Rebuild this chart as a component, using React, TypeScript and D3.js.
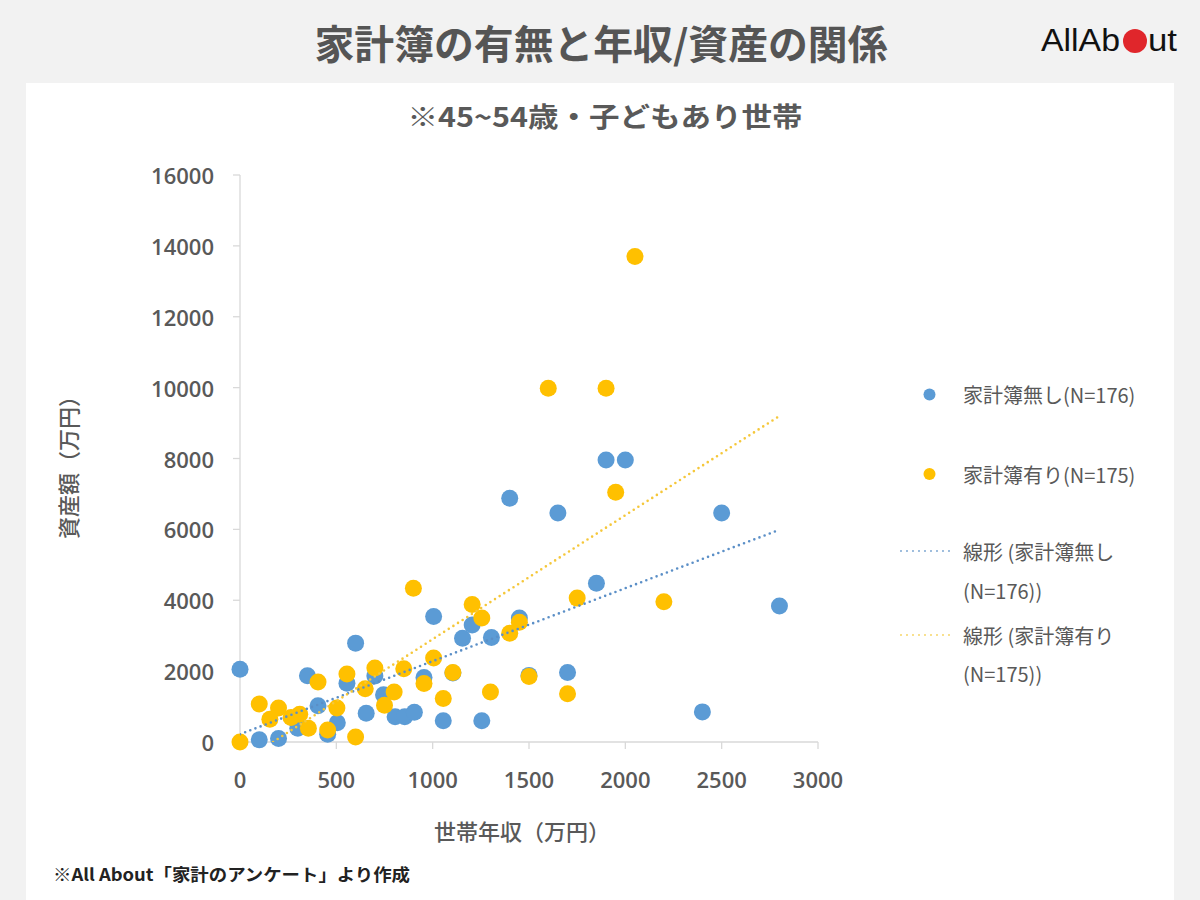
import React from 'react';
import * as d3 from 'd3';

// Axis ticks
const incomeTicks = [0, 500, 1000, 1500, 2000, 2500, 3000];
const assetTicks = [0, 2000, 4000, 6000, 8000, 10000, 12000, 14000, 16000];

// 家計簿無し (N=176): household income / assets, 万円
const noBookIncome = [0, 100, 200, 290, 300, 350, 405, 455, 505, 555, 600, 655, 700, 745, 805, 855, 905, 955, 1005, 1055, 1105, 1155, 1205, 1255, 1305, 1400, 1450, 1500, 1650, 1700, 1850, 1900, 2000, 2400, 2500, 2800];
const noBookAssets = [2050, 60, 100, 620, 390, 1870, 1020, 220, 540, 1660, 2790, 810, 1860, 1330, 710, 710, 840, 1820, 3540, 600, 1950, 2930, 3300, 600, 2950, 6880, 3500, 1880, 6460, 1960, 4480, 7960, 7960, 850, 6460, 3840];

// 家計簿有り (N=175)
const bookIncome = [0, 100, 155, 200, 265, 310, 355, 405, 455, 503, 555, 600, 650, 700, 750, 800, 850, 900, 955, 1005, 1055, 1105, 1205, 1255, 1300, 1400, 1450, 1500, 1600, 1700, 1750, 1900, 1950, 2050, 2200];
const bookAssets = [0, 1070, 640, 960, 690, 780, 390, 1690, 340, 960, 1920, 140, 1500, 2090, 1040, 1410, 2070, 4340, 1650, 2370, 1230, 1960, 3880, 3500, 1410, 3070, 3380, 1850, 9980, 1360, 4060, 9980, 7050, 13700, 3960];

// Linear trend lines (slope, intercept) and their x extent
const trendNoBook = { slope: 2.06, intercept: 220 };
const trendBook = { slope: 3.5, intercept: -600 };
const trendXMax = 2800;

const legendLabels = ['家計簿無し(N=176)', '家計簿有り(N=175)'];
const trendLabels = [['線形 (家計簿無し', '(N=176))'], ['線形 (家計簿有り', '(N=175))']];

const BLUE = '#5B9BD5';
const YELLOW = '#FFC000';
const TEXT = '#595959';
const JP = '"Noto Sans CJK JP", "Noto Sans", sans-serif';
const NUM = '"Open Sans", "Noto Sans", sans-serif';

export default function App() {
  const W = 1200;
  const H = 900;
  const x = d3.scaleLinear().domain([0, 3000]).range([240, 818]);
  const y = d3.scaleLinear().domain([0, 16000]).range([742, 175]);

  const noBook = noBookIncome.map((v, i) => [v, noBookAssets[i]]);
  const book = bookIncome.map((v, i) => [v, bookAssets[i]]);

  const line = d3.line<number[]>().x((d) => x(d[0])).y((d) => y(d[1]));
  const trendPath = (t: { slope: number; intercept: number }) => {
    const x0 = Math.max(0, -t.intercept / t.slope);
    return line([
      [x0, t.slope * x0 + t.intercept],
      [trendXMax, t.slope * trendXMax + t.intercept],
    ]);
  };

  const [x0, x1] = x.range();
  const [y0, y1] = y.range();

  return (
    <svg
      width={W}
      height={H}
      style={{ position: 'absolute', left: 0, top: 0, display: 'block' }}
    >
      <defs>
        <clipPath id="plot-clip">
          <rect x={x0} y={y1 - 10} width={x1 - x0} height={y0 - y1 + 10} />
        </clipPath>
      </defs>
      <rect x={0} y={0} width={W} height={H} fill="#f2f2f2" />
      <rect x={26} y={83} width={1148} height={H - 83} fill="#ffffff" />

      {/* header */}
      <text
        x={601}
        y={42}
        textAnchor="middle"
        dominantBaseline="central"
        fontFamily={JP}
        fontWeight={700}
        fontSize={40}
        fill="#555555"
        textLength={573}
        lengthAdjust="spacingAndGlyphs"
      >
        家計簿の有無と年収/資産の関係
      </text>
      <g fontFamily='"Liberation Sans Narrow", "Liberation Sans", Arial, sans-serif' fontSize={32} fill="#111111">
        <text x={1041} y={51} textLength={79} lengthAdjust="spacingAndGlyphs">AllAb</text>
        <circle cx={1135} cy={41} r={12} fill="#e0262b" />
        <text x={1148} y={51} textLength={29} lengthAdjust="spacingAndGlyphs">ut</text>
      </g>

      {/* subtitle */}
      <text
        x={605}
        y={115}
        textAnchor="middle"
        dominantBaseline="central"
        fontFamily={JP}
        fontWeight={700}
        fontSize={27}
        fill="#595959"
        textLength={395}
        lengthAdjust="spacingAndGlyphs"
      >
        ※45~54歳・子どもあり世帯
      </text>

      {/* axes */}
      <g stroke="#d9d9d9" strokeWidth={1.3} fill="none">
        <line x1={x0} x2={x0} y1={y1} y2={y0} />
        <line x1={x0} x2={x1} y1={y0} y2={y0} />
        {assetTicks.map((t) => (
          <line key={'yt' + t} x1={x0 - 7} x2={x0} y1={y(t)} y2={y(t)} />
        ))}
        {incomeTicks.map((t) => (
          <line key={'xt' + t} x1={x(t)} x2={x(t)} y1={y0} y2={y0 + 7} />
        ))}
      </g>
      <g fontFamily={NUM} fontWeight={600} fontSize={22} fill={TEXT}>
        {assetTicks.map((t) => (
          <text key={'yl' + t} x={214} y={y(t)} textAnchor="end" dominantBaseline="central">
            {t}
          </text>
        ))}
        {incomeTicks.map((t) => (
          <text key={'xl' + t} x={x(t)} y={779} textAnchor="middle" dominantBaseline="central">
            {t}
          </text>
        ))}
      </g>
      <text
        x={522}
        y={830}
        textAnchor="middle"
        dominantBaseline="central"
        fontFamily={JP}
        fontWeight={500}
        fontSize={22}
        fill={TEXT}
      >
        世帯年収（万円）
      </text>
      <text
        transform="translate(67,462) rotate(-90)"
        textAnchor="middle"
        dominantBaseline="central"
        fontFamily={JP}
        fontWeight={500}
        fontSize={22}
        fill={TEXT}
      >
        資産額（万円）
      </text>

      {/* points */}
      <g>
        {noBook.map((d, i) => (
          <circle key={'n' + i} cx={x(d[0])} cy={y(d[1])} r={8.5} fill={BLUE} />
        ))}
        {book.map((d, i) => (
          <circle key={'b' + i} cx={x(d[0])} cy={y(d[1])} r={8.5} fill={YELLOW} />
        ))}
      </g>

      {/* trend lines */}
      <g clipPath="url(#plot-clip)" fill="none" strokeLinecap="round" strokeWidth={2.6} strokeDasharray="0 5.5">
        <path d={trendPath(trendNoBook) || ''} stroke="#5b8fc7" />
        <path d={trendPath(trendBook) || ''} stroke="#f5c73a" />
      </g>

      {/* legend */}
      <g fontFamily={JP} fontSize={20} fill={TEXT}>
        <circle cx={929.5} cy={394.5} r={6} fill={BLUE} />
        <text x={963} y={394.5} dominantBaseline="central">{legendLabels[0]}</text>
        <circle cx={929.5} cy={474} r={6} fill={YELLOW} />
        <text x={963} y={474} dominantBaseline="central">{legendLabels[1]}</text>

        <line x1={901} x2={955} y1={551} y2={551} stroke="#7fa8d2" strokeWidth={2} strokeLinecap="round" strokeDasharray="0 6" />
        <text x={963} y={551} dominantBaseline="central">{trendLabels[0][0]}</text>
        <text x={963} y={590} dominantBaseline="central">{trendLabels[0][1]}</text>

        <line x1={901} x2={955} y1={635} y2={635} stroke="#f6d66a" strokeWidth={2} strokeLinecap="round" strokeDasharray="0 6" />
        <text x={963} y={635} dominantBaseline="central">{trendLabels[1][0]}</text>
        <text x={963} y={673.5} dominantBaseline="central">{trendLabels[1][1]}</text>
      </g>

      {/* source note */}
      <text
        x={53}
        y={873}
        dominantBaseline="central"
        fontFamily={JP}
        fontWeight={700}
        fontSize={17}
        fill="#222222"
        textLength={357}
        lengthAdjust="spacingAndGlyphs"
      >
        ※All About「家計のアンケート」より作成
      </text>
    </svg>
  );
}
